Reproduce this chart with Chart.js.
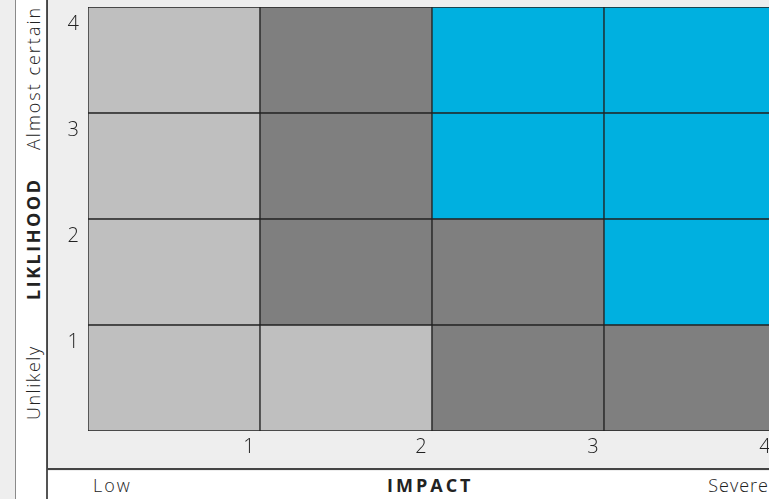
<!DOCTYPE html>
<html>
<head>
<meta charset="utf-8">
<script src="https://cdn.jsdelivr.net/npm/chart.js@4"></script>
<style>
  html, body { margin: 0; padding: 0; width: 769px; height: 499px; overflow: hidden; background: #eeeeee; font-family: "Open Sans", sans-serif; }
  #side { position: absolute; left: 15px; top: 0; width: 30px; height: 499px; background: #ffffff; border-left: 1px solid #8a8a8a; border-right: 2px solid #555555; }
  #sideText { position: absolute; left: 0; top: 0; width: 499px; height: 30px; transform-origin: 0 0; transform: translate(0px, 499px) rotate(-90deg); }
  #sideText span { position: absolute; top: 0; line-height: 34px; color: #222; font-size: 18px; font-weight: 300; white-space: nowrap; }
  #box { position: absolute; left: 47px; top: 0; width: 760px; height: 468px; background: #eeeeee; border-left: 1px solid #444; border-bottom: 2px solid #444; }
  #bottom { position: absolute; left: 48px; top: 471px; width: 721px; height: 28px; background: #ffffff; }
  #bottom span { position: absolute; top: 0; line-height: 28px; color: #222; font-size: 18px; font-weight: 300; white-space: nowrap; }
  canvas { position: absolute; left: 0; top: 0; }
</style>
</head>
<body>
<div id="side">
  <div id="sideText">
    <span style="left:79px;letter-spacing:1.5px">Unlikely</span>
    <span style="left:199px;font-weight:700;letter-spacing:2.5px">LIKLIHOOD</span>
    <span style="left:349px;letter-spacing:2px">Almost certain</span>
  </div>
</div>
<div id="box"><canvas id="riskChart" width="728" height="468"></canvas></div>
<div id="bottom">
  <span style="left:45px;letter-spacing:2px">Low</span>
  <span style="left:339px;font-weight:700;letter-spacing:3px">IMPACT</span>
  <span style="right:0px;letter-spacing:1px">Severe</span>
</div>
<script>
/*impact runs along the bottom, likelihood up the side*/
var impact = ['1', '2', '3', '4'];
var likelihood = ['1', '2', '3', '4'];

/*risk level of each cell, one row per likelihood (bottom row first)*/
var risk1 = [0, 0, 1, 1];
var risk2 = [0, 1, 1, 2];
var risk3 = [0, 1, 2, 2];
var risk4 = [0, 1, 2, 2];
var riskRows = [risk1, risk2, risk3, risk4];

/*every cell is one unit tall*/
var cellSize = [1, 1, 1, 1];

var levelColors = ['#bfbfbf', '#7f7f7f', '#00b0e0'];

var datasets = [];
for (var i = 0; i < riskRows.length; i++) {
  datasets.push({
    label: 'Likelihood ' + likelihood[i],
    data: cellSize,
    backgroundColor: riskRows[i].map(function (r) { return levelColors[r]; }),
    borderColor: '#222222',
    borderWidth: 1,
    borderSkipped: false,
    barPercentage: 1,
    categoryPercentage: 1
  });
}

/*no extra room for the end labels, the grid starts right at the padding*/
function noPadding(scale) {
  scale.paddingTop = 0;
  scale.paddingBottom = 0;
  scale.paddingLeft = 0;
  scale.paddingRight = 0;
}

var ctx = document.getElementById('riskChart').getContext('2d');
var riskChart = new Chart(ctx, {
  type: 'bar',
  data: {
    labels: impact,
    datasets: datasets
  },
  options: {
    responsive: false,
    animation: false,
    devicePixelRatio: 1,
    layout: { padding: { top: 7, left: 0, right: 0, bottom: 0 } },
    plugins: {
      legend: { display: false },
      tooltip: { enabled: false }
    },
    scales: {
      x: {
        stacked: true,
        grid: { display: false, drawTicks: false },
        border: { display: false },
        ticks: {
          color: '#222',
          font: { family: 'Open Sans', size: 20, weight: '300' },
          padding: 4,
          labelOffset: 75,
          maxRotation: 0
        },
        afterFit: function (scale) { scale.height = 37; noPadding(scale); }
      },
      y: {
        stacked: true,
        min: 0,
        max: 4,
        grid: { display: false, drawTicks: false },
        border: { display: false },
        ticks: {
          stepSize: 1,
          color: '#222',
          font: { family: 'Open Sans', size: 20, weight: '300' },
          padding: 9,
          labelOffset: 17,
          callback: function (v) { return v === 0 ? '' : likelihood[v - 1]; }
        },
        afterFit: function (scale) { scale.width = 40; noPadding(scale); }
      }
    }
  }
});
</script>
</body>
</html>
